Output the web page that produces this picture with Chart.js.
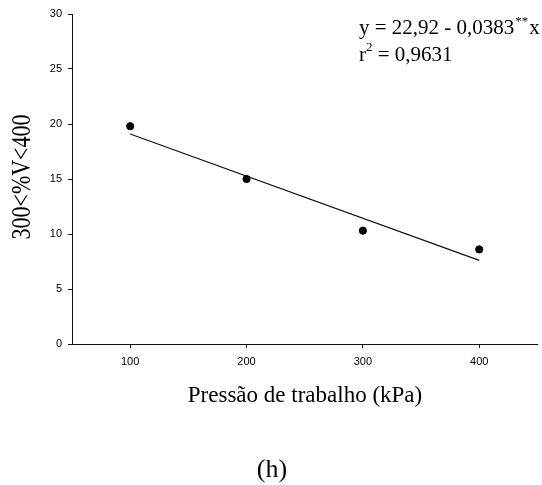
<!DOCTYPE html>
<html>
<head>
<meta charset="utf-8">
<script src="https://cdn.jsdelivr.net/npm/chart.js@4/dist/chart.umd.min.js"></script>
<style>
  html, body { margin: 0; padding: 0; background: #fff; }
  #porosityChart { display: block; }
</style>
</head>
<body>
<canvas id="porosityChart" width="542" height="485"></canvas>
<script>
// observed values
const pressure = [100, 200, 300, 400];
const porosity = [19.8, 15.0, 10.3, 8.6];

// fitted line: y = a + b*x, drawn between the first and last pressure
const fitCoef = [22.92, -0.0383];
const fitRange = [100, 400];

// axes
const xTicks = [100, 200, 300, 400];
const yTicks = [0, 5, 10, 15, 20, 25, 30];

const serif = '"Liberation Serif", "Times New Roman", serif';
const sans = '"Liberation Sans", Arial, sans-serif';
const ink = '#111';

const pointData = pressure.map((x, i) => ({ x: x, y: porosity[i] }));
const fitData = fitRange.map(x => ({ x: x, y: fitCoef[0] + fitCoef[1] * x }));

// titles, equation and panel letter
const textPlugin = {
  id: 'panelText',
  afterDraw(chart) {
    const ctx = chart.ctx;
    ctx.save();
    ctx.fillStyle = '#000';

    // y title
    ctx.save();
    ctx.translate(23, 177);
    ctx.rotate(-Math.PI / 2);
    ctx.scale(1, 1.25);
    ctx.font = '22px ' + serif;
    ctx.textAlign = 'center';
    ctx.textBaseline = 'middle';
    ctx.fillText('300<%V<400', 0, 0);
    ctx.restore();

    // x title
    ctx.font = '23px ' + serif;
    ctx.textAlign = 'center';
    ctx.textBaseline = 'alphabetic';
    ctx.fillText('Pressão de trabalho (kPa)', 305, 402);

    // panel letter
    ctx.font = '26px ' + serif;
    ctx.fillText('(h)', 272, 477);

    // regression equation
    ctx.textAlign = 'left';
    let x = 359;
    ctx.font = '21px ' + serif;
    const eq = 'y = ' + String(fitCoef[0]).replace('.', ',') + ' - ' +
      String(-fitCoef[1]).replace('.', ',');
    ctx.fillText(eq, x, 34);
    x += ctx.measureText(eq).width + 1;
    ctx.font = '13px ' + serif;
    ctx.fillText('**', x, 25);
    x += ctx.measureText('**').width + 1;
    ctx.font = '21px ' + serif;
    ctx.fillText('x', x, 34);

    x = 359;
    ctx.fillText('r', x, 61);
    x += ctx.measureText('r').width;
    ctx.font = '13px ' + serif;
    ctx.fillText('2', x, 51);
    x += ctx.measureText('2').width;
    ctx.font = '21px ' + serif;
    ctx.fillText(' = 0,9631', x, 61);

    ctx.restore();
  }
};

const config = {
  type: 'scatter',
  data: {
    datasets: [{
      label: 'observado',
      data: pointData,
      backgroundColor: '#000',
      borderColor: '#000',
      pointRadius: 3.6,
      pointHoverRadius: 3.6,
      showLine: false
    }, {
      label: 'ajuste',
      data: fitData,
      borderColor: ink,
      borderWidth: 1.2,
      pointRadius: 0,
      showLine: true,
      fill: false
    }]
  },
  options: {
    responsive: false,
    animation: false,
    events: [],
    layout: { padding: { top: 14, right: 4, left: 0, bottom: 0 } },
    plugins: {
      legend: { display: false },
      tooltip: { enabled: false }
    },
    scales: {
      x: {
        type: 'linear',
        min: 50,
        max: 450,
        afterBuildTicks: s => { s.ticks = xTicks.map(v => ({ value: v })); },
        afterFit: s => { s.height = 141; },
        border: { display: true, color: ink, width: 1 },
        grid: { drawOnChartArea: false, drawTicks: true, tickLength: 4, color: ink },
        ticks: { color: '#000', font: { family: sans, size: 11 }, padding: 7, maxRotation: 0 }
      },
      y: {
        type: 'linear',
        min: 0,
        max: 30,
        afterBuildTicks: s => { s.ticks = yTicks.map(v => ({ value: v })); },
        afterFit: s => { s.width = 72; },
        border: { display: true, color: ink, width: 1 },
        grid: { drawOnChartArea: false, drawTicks: true, tickLength: 4, color: ink },
        ticks: { color: '#000', font: { family: sans, size: 11 }, padding: 6 }
      }
    }
  },
  plugins: [textPlugin]
};

window.addEventListener('DOMContentLoaded', () => {
  const ctx = document.getElementById('porosityChart').getContext('2d');
  new Chart(ctx, config);
});
</script>
</body>
</html>
